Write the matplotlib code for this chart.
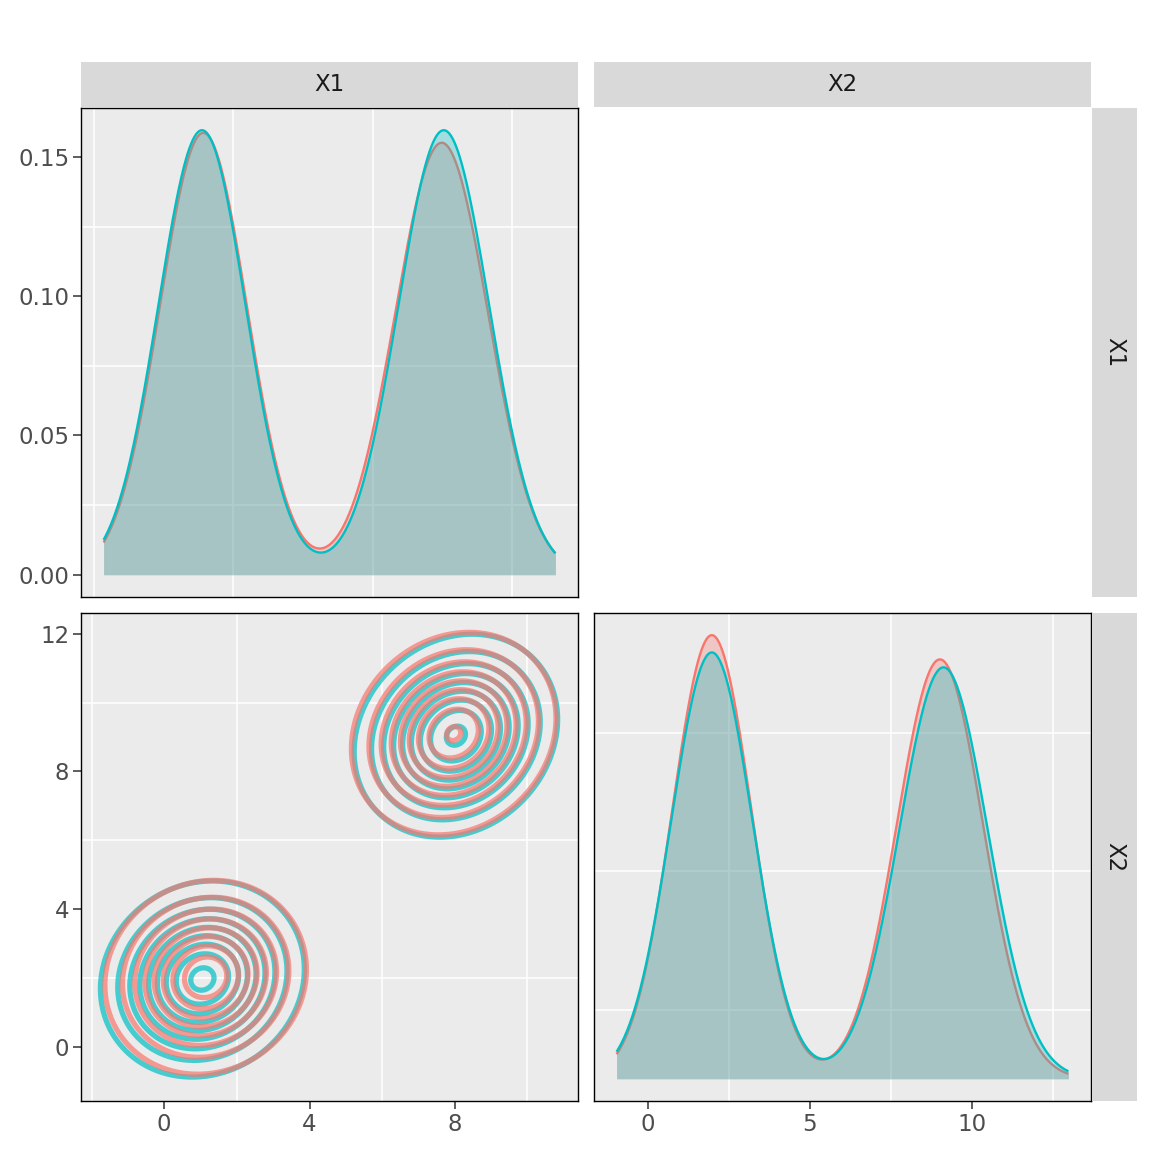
import numpy as np
import matplotlib
matplotlib.use("Agg")
import matplotlib.pyplot as plt

# --- data ----------------------------------------------------------------
red = "#F8766D"
cyan = "#00BFC4"

# X1 marginal density: one bump per cluster (mean, sd, weight)
x1_range = [-1.72, 11.23]
x1_means_red = [1.14, 7.97]
x1_sds_red = [1.25, 1.33]
x1_wts_red = [0.497, 0.517]
x1_means_cyan = [1.10, 8.03]
x1_sds_cyan = [1.25, 1.30]
x1_wts_cyan = [0.500, 0.520]

# X2 marginal density
x2_range = [-0.955, 12.97]
x2_means_red = [1.98, 9.01]
x2_sds_red = [1.22, 1.33]
x2_wts_red = [0.490, 0.505]
x2_means_cyan = [1.98, 9.12]
x2_sds_cyan = [1.25, 1.36]
x2_wts_cyan = [0.4825, 0.5066]

# 2d clusters for the X1 / X2 contour panel
xy_range_x = [-1.67, 10.77]
xy_range_y = [-0.93, 11.96]
cl_cx_red = [1.14, 7.97]
cl_cy_red = [2.02, 9.10]
cl_sx_red = [1.33, 1.34]
cl_sy_red = [1.35, 1.40]
cl_rho_red = [0.08, 0.15]
cl_w_red = [0.495, 0.530]
cl_cx_cyan = [1.05, 8.03]
cl_cy_cyan = [1.97, 9.04]
cl_sx_cyan = [1.33, 1.33]
cl_sy_cyan = [1.35, 1.40]
cl_rho_cyan = [0.10, 0.16]
cl_w_cyan = [0.520, 0.530]
contour_levels = [0.005, 0.010, 0.015, 0.020, 0.025, 0.030, 0.035, 0.040, 0.045]

var_names = ["X1", "X2"]


def mix_pdf(x, means, sds, wts):
    out = np.zeros_like(x)
    for m, s, w in zip(means, sds, wts):
        out += w * np.exp(-0.5 * ((x - m) / s) ** 2) / (s * np.sqrt(2 * np.pi))
    return out


def mix_pdf2(X, Y, cx, cy, sx, sy, rho, wts):
    Z = np.zeros_like(X)
    for mx, my, a, b, r, w in zip(cx, cy, sx, sy, rho, wts):
        u = (X - mx) / a
        v = (Y - my) / b
        q = (u ** 2 - 2 * r * u * v + v ** 2) / (1 - r ** 2)
        Z += w * np.exp(-0.5 * q) / (2 * np.pi * a * b * np.sqrt(1 - r ** 2))
    return Z


def expand(lo, hi, f=0.05):
    d = (hi - lo) * f
    return lo - d, hi + d


W = H = 1152
fig = plt.figure(figsize=(W / 100, H / 100), dpi=100)


def px_axes(x0, y0, x1, y1):
    return fig.add_axes([x0 / W, 1 - y1 / H, (x1 - x0) / W, (y1 - y0) / H])


def style_panel(ax):
    ax.set_facecolor("#EBEBEB")
    for sp in ax.spines.values():
        sp.set_color("black")
        sp.set_linewidth(1.0)
    ax.tick_params(length=5.5, width=1.1, color="#333333", labelcolor="#4D4D4D",
                   labelsize=16.5, pad=3)


def grid(ax, xs, ys):
    for v in xs:
        ax.axvline(v, color="white", lw=1.1, zorder=0.5)
    for v in ys:
        ax.axhline(v, color="white", lw=1.1, zorder=0.5)


def density_panel(ax, rng, params):
    xs = np.linspace(rng[0], rng[1], 512)
    curves = []
    for (m, s, w), col in params:
        curves.append((mix_pdf(xs, m, s, w), col))
    for y, col in curves:
        ax.fill_between(xs, 0, y, color=col, alpha=0.3, lw=0, zorder=2)
        ax.plot(xs, y, color=col, lw=1.7, zorder=2, solid_capstyle="butt")
    top = max(y.max() for y, _ in curves)
    ax.set_xlim(*expand(rng[0], rng[1]))
    ax.set_ylim(*expand(0, top))


# --- top left: X1 density ------------------------------------------------
ax11 = px_axes(81, 108, 578, 597)
style_panel(ax11)
density_panel(ax11, x1_range,
              [((x1_means_red, x1_sds_red, x1_wts_red), red),
               ((x1_means_cyan, x1_sds_cyan, x1_wts_cyan), cyan)])
grid(ax11, [-2, 2, 6, 10], [0.025, 0.075, 0.125])
ax11.set_yticks([0, 0.05, 0.10, 0.15])
ax11.set_yticklabels(["0.00", "0.05", "0.10", "0.15"])
ax11.set_xticks([])

# --- bottom left: contours -----------------------------------------------
ax21 = px_axes(81, 613, 578, 1101)
style_panel(ax21)
xl = expand(*xy_range_x)
yl = expand(*xy_range_y)
gx, gy = np.meshgrid(np.linspace(xl[0], xl[1], 400), np.linspace(yl[0], yl[1], 400))
z_cyan = mix_pdf2(gx, gy, cl_cx_cyan, cl_cy_cyan, cl_sx_cyan, cl_sy_cyan, cl_rho_cyan, cl_w_cyan)
z_red = mix_pdf2(gx, gy, cl_cx_red, cl_cy_red, cl_sx_red, cl_sy_red, cl_rho_red, cl_w_red)
ax21.contour(gx, gy, z_cyan, levels=contour_levels, colors=cyan, linewidths=3.8, alpha=0.7, zorder=2)
ax21.contour(gx, gy, z_red, levels=contour_levels, colors=red, linewidths=3.8, alpha=0.7, zorder=3)
ax21.set_xlim(*xl)
ax21.set_ylim(*yl)
grid(ax21, [-2, 2, 6, 10], [2, 6, 10])
ax21.set_xticks([0, 4, 8])
ax21.set_yticks([0, 4, 8, 12])

# --- bottom right: X2 density --------------------------------------------
ax22 = px_axes(594, 613, 1091, 1101)
style_panel(ax22)
density_panel(ax22, x2_range,
              [((x2_means_red, x2_sds_red, x2_wts_red), red),
               ((x2_means_cyan, x2_sds_cyan, x2_wts_cyan), cyan)])
grid(ax22, [2.5, 7.5, 12.5], [0.025, 0.075, 0.125])
ax22.set_xticks([0, 5, 10])
ax22.set_yticks([])

# --- strips --------------------------------------------------------------
def strip(x0, y0, x1, y1, label, rot=0):
    s = px_axes(x0, y0, x1, y1)
    s.set_facecolor("#D9D9D9")
    for sp in s.spines.values():
        sp.set_visible(False)
    s.set_xticks([])
    s.set_yticks([])
    s.text(0.5, 0.5, label, transform=s.transAxes, ha="center", va="center",
           rotation=rot, fontsize=16.5, color="#1A1A1A")


strip(81, 62, 578, 107, var_names[0])
strip(594, 62, 1091, 107, var_names[1])
strip(1092, 108, 1137, 597, var_names[0], rot=-90)
strip(1092, 613, 1137, 1101, var_names[1], rot=-90)

fig.savefig("out.png", dpi=100, facecolor="white")
